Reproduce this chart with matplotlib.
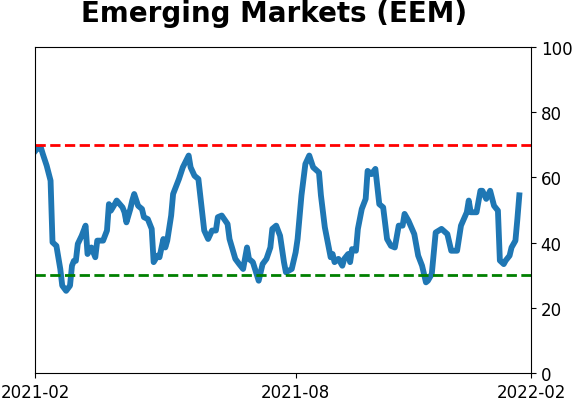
import matplotlib
matplotlib.use("Agg")
import matplotlib.pyplot as plt

# Trading-day index and indicator value
days = [0, 1, 3, 4, 6, 8, 9, 11, 13, 14, 16, 18, 19, 20, 21, 22, 24, 26, 27, 29,
        31, 32, 35, 37, 38, 39, 41, 42, 45, 46, 47, 49, 50, 51, 53, 55, 56, 58, 60, 61,
        63, 64, 66, 67, 68, 70, 71, 74, 76, 79, 80, 82, 84, 86, 87, 89, 91, 93, 94, 96,
        99, 100, 103, 105, 107, 109, 110, 112, 115, 117, 119, 121, 122, 124, 126, 128, 129, 132, 134, 135,
        137, 139, 141, 143, 146, 147, 149, 152, 153, 154, 156, 158, 159, 161, 162, 163, 165, 166, 168, 170,
        171, 173, 175, 177, 179, 181, 183, 185, 187, 189, 190, 192, 195, 197, 199, 201, 202, 204, 206, 209,
        212, 214, 217, 219, 222, 223, 224, 227, 229, 230, 232, 234, 236, 238, 239, 241, 242, 244, 245, 247,
        248, 249]
values = [68, 68.7, 69.2, 67.2, 63.6, 59, 40.1, 39, 31.9, 26.8, 25.2, 26.8, 32.9, 34.4, 34.4, 39.6, 42.1, 45.2, 36.5, 38.5,
          35.5, 40.6, 40.6, 43.7, 51.8, 49.8, 51.8, 52.9, 50.8, 49.3, 46.2, 50.3, 52.9, 54.9, 51.3, 50.3, 47.8, 47.2, 44.2, 34,
          36, 35.5, 41.1, 38.5, 40.6, 48.3, 54.9, 59.5, 63.1, 66.7, 63.1, 60.5, 59.5, 49, 43.7, 41.1, 43.7, 43.7, 47.8, 48.3,
          45.7, 41.1, 35, 33.4, 31.9, 38.5, 35, 34, 28.3, 33.4, 35, 38.5, 44.2, 45.2, 42.1, 34, 30.9, 31.9, 37, 41.1,
          54.5, 64.1, 66.7, 63.1, 61.5, 54.5, 44.7, 35.5, 36.5, 34, 35, 32.9, 35, 36.5, 34, 38, 37.5, 44.2, 50.3, 53.4,
          62, 61, 62.6, 51.8, 50.8, 41.1, 39, 38.5, 45.2, 45.2, 48.8, 46.7, 42.6, 36, 32.9, 27.8, 28.3, 30.4, 43.1, 44.2,
          42.6, 37.5, 37.5, 45.2, 49.3, 52.9, 49.3, 49.3, 55.9, 55.9, 53.4, 55.9, 51.3, 49.8, 34.5, 33.4, 34.5, 36, 38.5, 40.6,
          47.2, 54.5]

tick_pos = [0, 134, 255]
tick_labels = ["2021-02", "2021-08", "2022-02"]
upper_level = 70
lower_level = 30

fig = plt.figure(figsize=(5.72, 4.02), dpi=100)
ax = fig.add_axes([0.0612, 0.0697, 0.8671, 0.8109])

ax.plot(days, values, color="#1f77b4", linewidth=4.2)
ax.axhline(upper_level, color="red", linestyle="--", linewidth=2)
ax.axhline(lower_level, color="green", linestyle="--", linewidth=2)

ax.set_xlim(0, 255)
ax.set_ylim(0, 100)
ax.set_xticks(tick_pos)
ax.set_xticklabels(tick_labels, fontsize=12)
ax.yaxis.tick_right()
ax.set_yticks([0, 20, 40, 60, 80, 100])
ax.tick_params(axis="y", labelsize=12)

fig.suptitle("Emerging Markets (EEM)", fontsize=20, fontweight="bold", x=0.479, y=1.0)

fig.savefig("out.png", dpi=100)
